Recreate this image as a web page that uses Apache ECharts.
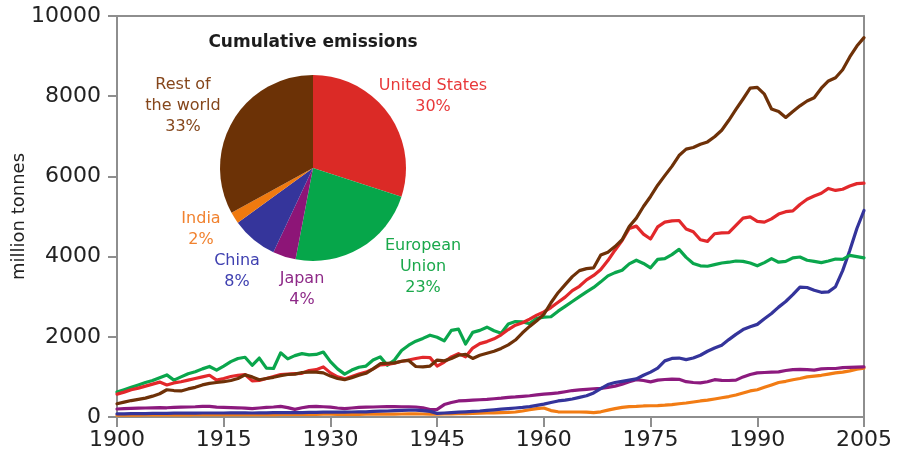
<!DOCTYPE html>
<html>
<head>
<meta charset="utf-8">
<title>CO2 emissions 1900-2005</title>
<script src="https://cdn.jsdelivr.net/npm/echarts@6/dist/echarts.min.js"></script>
<style>
  html, body { margin: 0; padding: 0; background: #ffffff; }
  #chart { width: 898px; height: 456px; }
</style>
</head>
<body>
<div id="chart"></div>
<script>
// Annual emissions, million tonnes, 1900-2005
const firstYear = 1900;
const lastYear = 2005;

const europeanUnion = [
  620, 680, 740, 800, 860, 910, 980, 1050, 920, 1000,
  1080, 1130, 1200, 1260, 1170, 1270, 1380, 1460, 1490, 1290,
  1470, 1220, 1210, 1600, 1450, 1530, 1580, 1550, 1560, 1620,
  1380, 1200, 1070, 1170, 1240, 1270, 1420, 1500, 1290, 1420,
  1660, 1790, 1890, 1960, 2040, 1990, 1900, 2160, 2190, 1820,
  2110, 2160, 2240, 2150, 2090, 2320, 2380, 2370, 2330, 2460,
  2490, 2500, 2640, 2760, 2880, 3000, 3120, 3230, 3370, 3520,
  3600, 3660, 3820, 3910, 3830, 3720, 3930, 3950, 4050, 4180,
  3980, 3830, 3770, 3760, 3800, 3840, 3860, 3890, 3880, 3840,
  3770, 3850, 3950, 3860, 3880, 3970, 3990, 3910, 3880, 3850,
  3890, 3940, 3930, 4030, 4000, 3970
];

const unitedStates = [
  570, 620, 680, 720, 770, 820, 870, 800, 850, 880,
  920, 960, 1000, 1040, 920, 960, 1010, 1040, 1060, 900,
  910, 960, 1010, 1060, 1070, 1080, 1090, 1160, 1180, 1250,
  1100, 1000, 950, 1010, 1070, 1120, 1200, 1300, 1310, 1340,
  1390, 1420, 1460, 1490, 1480, 1270, 1370, 1500, 1580, 1500,
  1720, 1830, 1880, 1950, 2050, 2180, 2290, 2350, 2440, 2540,
  2620, 2730, 2860, 2990, 3150, 3260, 3420, 3530, 3680, 3900,
  4160, 4400, 4700, 4760, 4560, 4440, 4740, 4860, 4890, 4900,
  4690, 4620, 4420, 4380, 4570, 4590, 4600, 4780, 4960, 4990,
  4880, 4860, 4940, 5060, 5120, 5140, 5300, 5430, 5510, 5580,
  5700, 5650, 5680, 5760, 5820, 5830
];

const restOfWorld = [
  330, 370, 410, 440, 470, 520, 580, 680, 660, 650,
  700, 740, 800, 840, 860, 880, 910, 960, 1050, 1000,
  930, 960, 990, 1030, 1060, 1070, 1110, 1120, 1120, 1100,
  1020, 960, 930, 980, 1040, 1090, 1200, 1330, 1340, 1350,
  1390, 1410, 1260, 1250, 1270, 1420, 1400, 1460, 1540, 1560,
  1460, 1540, 1590, 1640, 1710, 1800, 1920, 2100, 2260, 2400,
  2560, 2850, 3100, 3300, 3500, 3650, 3700, 3720, 4040, 4110,
  4250, 4420, 4750, 4960, 5250, 5500, 5780, 6020, 6250, 6520,
  6680, 6720, 6800, 6860, 6990, 7150, 7400, 7670, 7930, 8200,
  8220, 8050, 7680, 7620, 7470, 7620, 7760, 7880, 7960, 8200,
  8380, 8460, 8660, 8980, 9250, 9460
];

const japan = [
  200, 210, 215, 220, 225, 230, 235, 230, 240, 245,
  250, 255, 265, 265, 245, 240, 235, 230, 220, 210,
  225, 240, 250, 265, 235, 190, 230, 260, 265, 255,
  245, 225, 210, 225, 240, 245, 250, 255, 260, 260,
  255, 255, 250, 230, 185, 190, 310, 360, 400, 410,
  420, 430, 440, 455, 470, 490, 500, 515, 530, 550,
  570, 585, 600, 630, 660, 675, 690, 705, 715, 740,
  770, 820, 880, 930, 910, 875, 920, 935, 945, 940,
  880, 860, 850, 880, 930, 915, 910, 920, 1000, 1060,
  1100, 1110, 1120, 1125, 1160, 1180, 1190, 1180, 1170, 1200,
  1210, 1210, 1230, 1240, 1245, 1250
];

const china = [
  80, 80, 85, 85, 85, 90, 90, 90, 95, 95,
  95, 95, 100, 100, 100, 100, 105, 105, 105, 100,
  105, 105, 110, 110, 110, 110, 110, 115, 115, 120,
  120, 120, 120, 125, 130, 130, 140, 145, 150, 160,
  165, 170, 170, 160, 140, 90, 100, 110, 120, 130,
  140, 150, 165, 180, 195, 210, 225, 240, 260, 290,
  320, 360, 400, 420, 450, 490, 530, 600, 710, 810,
  860, 890, 920, 950, 1040, 1120, 1220, 1400, 1460, 1470,
  1430, 1470, 1540, 1640, 1720, 1790, 1930, 2060, 2180, 2250,
  2310, 2450, 2580, 2740, 2880, 3050, 3240, 3230, 3160, 3110,
  3120, 3250, 3650, 4150, 4700, 5150
];

const india = [
  45, 45, 48, 48, 50, 50, 52, 52, 53, 55,
  55, 56, 58, 58, 58, 60, 60, 60, 58, 58,
  58, 60, 60, 62, 62, 64, 64, 65, 66, 68,
  68, 66, 64, 64, 66, 68, 70, 72, 72, 74,
  75, 76, 76, 75, 72, 70, 80, 80, 85, 85,
  90, 95, 100, 105, 110, 115, 125, 150, 180, 210,
  225, 160, 130, 125, 125, 125, 120, 110, 130, 170,
  210, 240, 260, 265, 275, 280, 285, 295, 310, 330,
  350, 375, 400, 420, 450, 480, 510, 550, 600, 650,
  680, 740, 800, 860, 890, 930, 960, 1000, 1020, 1040,
  1070, 1100, 1120, 1150, 1190, 1220
];

// Cumulative share of emissions, percent
const pieNames = ['United States', 'European\nUnion', 'Japan', 'China', 'India', 'Rest of\nthe world'];
const pieShares = [30, 23, 4, 8, 2, 33];

// Axis ticks
const yearTicks = [1900, 1915, 1930, 1945, 1960, 1975, 1990, 2005];
const emissionTicks = [0, 2000, 4000, 6000, 8000, 10000];

// Styling
const lineColors = {
  eu: '#0aa64c',
  us: '#e2282b',
  rest: '#6e3108',
  japan: '#8c1a7e',
  china: '#34349b',
  india: '#f27c14'
};
const sliceColors = ['#db2a26', '#06a64a', '#8d1577', '#35359b', '#f07a0f', '#6c3206'];
const sliceTextColors = ['#e8393a', '#1aa84b', '#8e2a88', '#3f40b0', '#f1822f', '#85461b'];
// label anchor points (px) around the pie, in slice order
const pieLabelSpots = [[433, 96], [423, 267], [302, 289], [237, 271], [201, 229], [183, 106]];

const fontFamily = '"DejaVu Sans", "Liberation Sans", sans-serif';
const frameColor = '#8e8e8e';

function pairs(values) {
  return values.map((v, i) => [firstYear + i, v]);
}

function lineSeries(name, values, color) {
  return {
    name: name,
    type: 'line',
    xAxisIndex: 0,
    yAxisIndex: 0,
    data: pairs(values),
    showSymbol: false,
    symbol: 'none',
    smooth: false,
    lineStyle: { color: color, width: 3.2, cap: 'round', join: 'round' },
    itemStyle: { color: color },
    z: 3
  };
}

// plain axis edge used for the top and right sides of the frame
function frameAxis(position, min, max) {
  return {
    type: 'value',
    position: position,
    min: min,
    max: max,
    axisLine: { show: true, onZero: false, lineStyle: { color: frameColor, width: 2 } },
    axisTick: { show: false },
    axisLabel: { show: false },
    splitLine: { show: false }
  };
}

const chart = echarts.init(document.getElementById('chart'), null, { renderer: 'canvas' });

chart.setOption({
  animation: false,
  backgroundColor: '#ffffff',
  textStyle: { fontFamily: fontFamily },
  grid: {
    left: 117,
    right: 34,
    top: 16,
    bottom: 39,
    containLabel: false,
    outerBoundsMode: 'none'
  },
  xAxis: [
    {
      type: 'value',
      position: 'bottom',
      min: firstYear,
      max: lastYear,
      interval: yearTicks[1] - yearTicks[0],
      axisLine: { show: true, onZero: false, lineStyle: { color: frameColor, width: 2 } },
      axisTick: { show: true, inside: false, length: 10, lineStyle: { color: frameColor, width: 2 } },
      splitLine: { show: false },
      axisLabel: {
        show: true,
        margin: 12,
        color: '#222222',
        fontSize: 22,
        fontFamily: fontFamily,
        formatter: v => yearTicks.includes(v) ? String(v) : ''
      }
    },
    frameAxis('top', firstYear, lastYear)
  ],
  yAxis: [
    {
      type: 'value',
      position: 'left',
      min: emissionTicks[0],
      max: emissionTicks[emissionTicks.length - 1],
      interval: emissionTicks[1] - emissionTicks[0],
      name: 'million tonnes',
      nameLocation: 'middle',
      nameGap: 89,
      nameMoveOverlap: false,
      nameRotate: 90,
      nameTextStyle: { color: '#222222', fontSize: 18, fontFamily: fontFamily },
      axisLine: { show: true, onZero: false, lineStyle: { color: frameColor, width: 2 } },
      axisTick: { show: true, inside: false, length: 9, lineStyle: { color: frameColor, width: 2 } },
      splitLine: { show: false },
      axisLabel: {
        show: true,
        margin: 16,
        color: '#222222',
        fontSize: 22,
        fontFamily: fontFamily,
        formatter: v => String(v)
      }
    },
    frameAxis('right', emissionTicks[0], emissionTicks[emissionTicks.length - 1])
  ],
  graphic: [
    {
      type: 'text',
      x: 313,
      y: 43,
      z: 20,
      style: {
        text: 'Cumulative emissions',
        align: 'center',
        verticalAlign: 'middle',
        fill: '#1c1c1c',
        font: 'bold 17px ' + fontFamily
      }
    }
  ],
  series: [
    lineSeries('India', india, lineColors.india),
    lineSeries('Japan', japan, lineColors.japan),
    lineSeries('China', china, lineColors.china),
    lineSeries('European Union', europeanUnion, lineColors.eu),
    lineSeries('United States', unitedStates, lineColors.us),
    lineSeries('Rest of the world', restOfWorld, lineColors.rest),
    {
      name: 'Cumulative emissions',
      type: 'pie',
      center: [313, 168],
      radius: 93,
      startAngle: 90,
      clockwise: true,
      z: 10,
      silent: true,
      avoidLabelOverlap: false,
      data: pieNames.map((n, i) => ({
        name: n,
        value: pieShares[i],
        itemStyle: { color: sliceColors[i], borderWidth: 0 },
        label: { color: sliceTextColors[i] }
      })),
      label: {
        show: true,
        position: 'outside',
        formatter: p => p.name + '\n' + p.value + '%',
        fontSize: 16,
        lineHeight: 21,
        align: 'center',
        fontFamily: fontFamily
      },
      labelLine: { show: false },
      labelLayout: p => {
        const s = pieLabelSpots[p.dataIndex];
        return { x: s[0], y: s[1], align: 'center', verticalAlign: 'middle', hideOverlap: false };
      }
    }
  ]
});
</script>
</body>
</html>
